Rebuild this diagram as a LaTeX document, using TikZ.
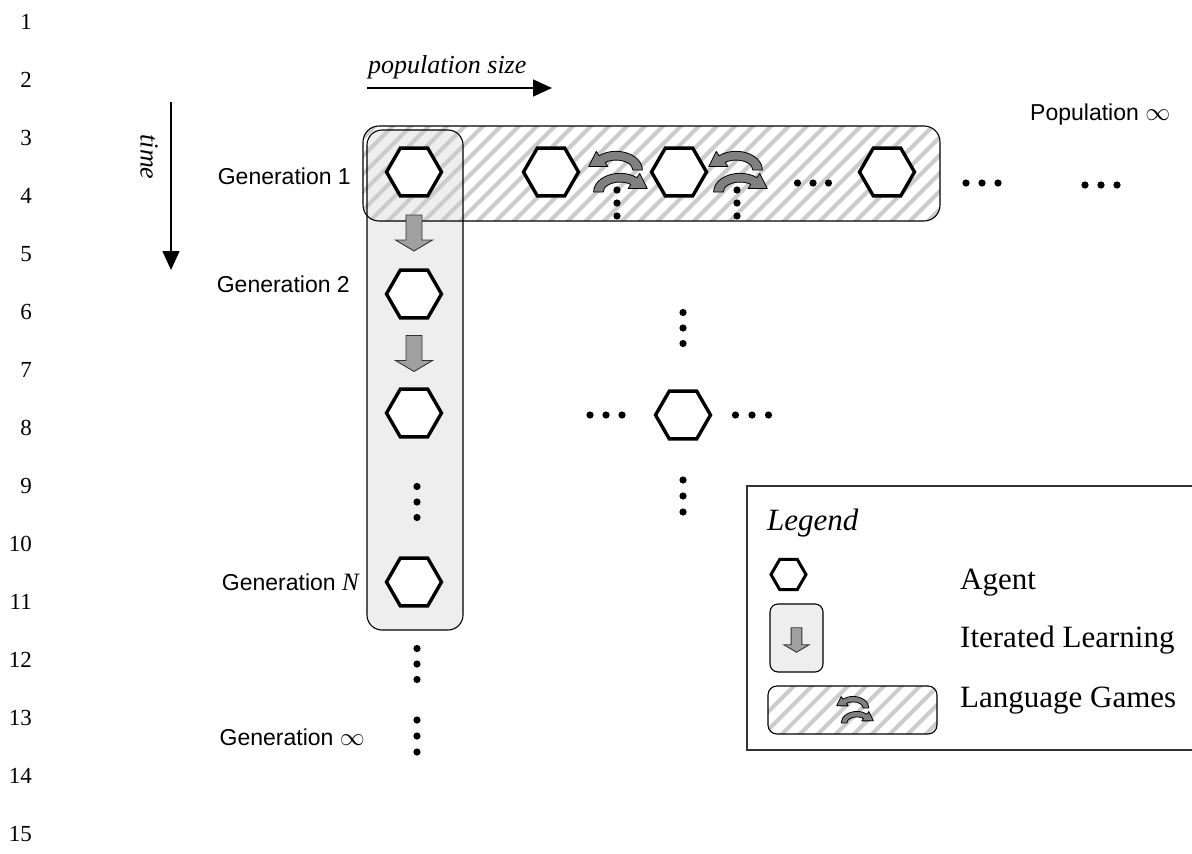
\documentclass[tikz,border=0pt]{standalone}
\usepackage{fontspec}
\setmainfont{Liberation Serif}
\setsansfont{Liberation Sans}
\usetikzlibrary{shapes.geometric,arrows.meta,calc}
\definecolor{boxgray}{HTML}{EEEEEE}
\definecolor{stripegray}{HTML}{CCCCCC}
\definecolor{arrgray}{HTML}{A0A0A0}
\definecolor{curvegray}{HTML}{808080}
\definecolor{legframe}{HTML}{333333}
\newcommand\vdts[3]{\foreach \d in {-1,0,1} \fill (#1,{#2+#3*\d}) circle (3.6pt);}
\newcommand\hdts[3]{\foreach \d in {-1,0,1} \fill ({#1+#3*\d},#2) circle (3.6pt);}
\begin{document}
\begin{tikzpicture}[x=1pt,y=-1pt,
  hex/.style={regular polygon,regular polygon sides=6,draw,line width=3.4pt,fill=white,inner sep=0pt,minimum size=55pt},
  lnum/.style={font=\fontsize{23}{27}\selectfont,inner sep=0pt,anchor=east},
  gen/.style={font=\sffamily\fontsize{23}{27}\selectfont,inner sep=0pt,anchor=base east},
  legtext/.style={font=\fontsize{31}{36}\selectfont,inner sep=0pt,anchor=base west},
  stripes/.style={line width=4pt,stripegray},
  boxline/.style={draw=black,line width=1.1pt},
  axisarrow/.style={line width=1.5pt,-{Triangle[length=19pt,width=17pt]}},
  pics/blockarr/.style={code={\draw[fill=arrgray,draw=black!80,line width=0.9pt,line join=miter] (-8,-18) -- (8,-18) -- (8,7) -- (18.5,7) -- (0,18) -- (-18.5,7) -- (-8,7) -- cycle;}},
  pics/gamearr/.style={code={\draw[fill=curvegray,line width=0.8pt,line join=round] (-22,0) .. controls (-22,-9.4) and (-12.2,-17) .. (0,-17) .. controls (5.2,-17) and (10.2,-15.6) .. (14.1,-13) -- (16.4,-16.9) -- (22.7,-3.2) -- (6.7,-3.1) -- (9,-6.9) .. controls (6.5,-8.25) and (3.3,-9) .. (0,-9) .. controls (-7.7,-9) and (-14,-5) .. (-14,0) -- cycle;}}
]
\useasboundingbox (0,0) rectangle (1192,854);

% line numbers
\foreach \k in {1,...,15} \node[lnum] (ln\k) at (32,{22+58*(\k-1)}) {\k};

% axes
\node[font=\itshape\fontsize{26}{30}\selectfont,inner sep=0pt,anchor=base west] (popsize) at (368,73) {population size};
\coordinate (ps0) at (367,88); \coordinate (ps1) at (552,88);
\draw[axisarrow] (ps0) -- (ps1);
\node[font=\itshape\fontsize{26}{30}\selectfont,rotate=-90,inner sep=0pt] (timelbl) at (149,157) {time};
\coordinate (t0) at (171,102); \coordinate (t1) at (171,270);
\draw[axisarrow] (t0) -- (t1);

% boxes
\fill[white,rounded corners=16pt] (363,126) rectangle (940,221);
\fill[boxgray,rounded corners=15pt] (367,130) rectangle (463,630);
\begin{scope}
\clip[rounded corners=16pt] (363,126) rectangle (940,221);
\foreach \i in {0,...,40} \draw[stripes] ({253+18*\i},230) -- ({253+18*\i+115},115);
\end{scope}
\draw[boxline,rounded corners=15pt] (367,130) rectangle (463,630);
\draw[boxline,rounded corners=16pt] (363,126) rectangle (940,221);

% labels
\node[gen] (gen1) at (351,184) {Generation 1};
\node[gen] (gen2) at (350,292) {Generation 2};
\node[gen] (genN) at (359,590) {Generation {\rmfamily\itshape\fontsize{25}{27}\selectfont N}};
\node[gen] (genInf) at (365,745) {Generation $\infty$};
\node[gen,anchor=base west] (popInf) at (1030,120) {Population $\infty$};

% agents
\node[hex] (g1) at (414,172) {};
\node[hex] (g2) at (414,294) {};
\node[hex] (g3) at (414,413) {};
\node[hex] (gN) at (414,582) {};
\node[hex] (r1) at (551,172) {};
\node[hex] (r2) at (679,172) {};
\node[hex] (r3) at (887,172) {};
\node[hex] (cc) at (683,415) {};

% iterated learning arrows
\pic at ($(g1.south)!0.5!(g2.north)$) {blockarr};
\pic at ($(g2.south)!0.5!(g3.north)$) {blockarr};

% language games
\pic[xscale=-1.2,yscale=1.1] at (616,170) {gamearr};
\pic[xscale=1.2,yscale=1.1] at (620,192) {gamearr};
\pic[xscale=-1.2,yscale=1.1] at (736,170) {gamearr};
\pic[xscale=1.2,yscale=1.1] at (740,192) {gamearr};

% dots
\vdts{617}{203}{13}
\vdts{737}{203}{13}
\hdts{813}{183}{15.5}
\hdts{982}{183}{16}
\hdts{1101}{185}{16}
\vdts{683}{328}{15.5}
\vdts{683}{496}{16}
\hdts{606}{415}{16}
\hdts{752}{415}{16.5}
\vdts{417}{502}{15.5}
\vdts{417}{664}{15.5}
\vdts{417}{736}{16}

% legend
\draw[legframe,line width=1.5pt] (747,486) rectangle (1200,750);
\node[legtext,font=\itshape\fontsize{31}{36}\selectfont] (legtitle) at (767,530) {Legend};
\node[hex,minimum size=35pt,line width=3pt] (leghex) at (788.5,574.5) {};
\node[legtext] (legagent) at (960,589) {Agent};
\draw[boxline,fill=boxgray,rounded corners=8pt] (770,604) rectangle (823,672);
\pic[scale=0.68] at (796.5,640) {blockarr};
\node[legtext] (legil) at (960,647) {Iterated Learning};
\fill[white,rounded corners=9pt] (768,686) rectangle (937,734);
\begin{scope}
\clip[rounded corners=9pt] (768,686) rectangle (937,734);
\foreach \i in {0,...,14} \draw[stripes] ({740+18*\i},740) -- ({740+18*\i+60},680);
\end{scope}
\draw[boxline,rounded corners=9pt] (768,686) rectangle (937,734);
\pic[xscale=-0.72,yscale=0.68] at (853,708) {gamearr};
\pic[xscale=0.72,yscale=0.68] at (857,723) {gamearr};
\node[legtext] (leglg) at (960,707) {Language Games};
\end{tikzpicture}
\end{document}
